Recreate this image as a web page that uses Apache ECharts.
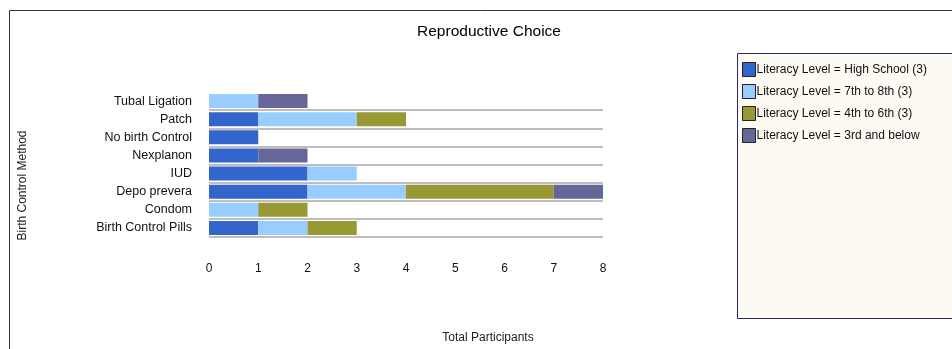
<!DOCTYPE html>
<html><head><meta charset="utf-8">
<script src="https://cdn.jsdelivr.net/npm/echarts@6/dist/echarts.min.js"></script>
<style>html,body{margin:0;padding:0;background:#fff}#c{width:952px;height:349px}</style>
</head><body><div id="c"></div>
<script>
const categories = ['Tubal Ligation','Patch','No birth Control','Nexplanon','IUD','Depo prevera','Condom','Birth Control Pills'];
const seriesNames = ['Literacy Level = High School (3)','Literacy Level = 7th to 8th (3)','Literacy Level = 4th to 6th (3)','Literacy Level = 3rd and below'];
const highSchool = [0,1,1,1,2,2,0,1];
const seventhToEighth = [1,2,0,0,1,2,1,1];
const fourthToSixth = [0,1,0,0,0,3,1,1];
const thirdAndBelow = [1,0,0,1,0,1,0,0];
const xTicks = [0,1,2,3,4,5,6,7,8];
const colors = ['#3366cc','#99ccff','#999933','#666699'];
const values = [highSchool, seventhToEighth, fourthToSixth, thirdAndBelow];

const chart = echarts.init(document.getElementById('c'));
const font = 'Liberation Sans, Arial, sans-serif';
chart.setOption({
  animation:false,
  backgroundColor:'#fff',
  title:{text:'Reproductive Choice',left:484,top:19,textAlign:'center',textStyle:{fontFamily:font,fontSize:15.5,fontWeight:'normal',color:'#000'}},
  graphic:[
    {type:'polyline',shape:{points:[[9.5,349],[9.5,10.5],[952,10.5]]},style:{stroke:'#333',lineWidth:1,fill:null},z:0},
    {type:'rect',shape:{x:737.5,y:53.5,width:230,height:265},style:{fill:'#fdfaf3',stroke:'#2b2b6b',lineWidth:1},z:0}
  ],
  legend:{orient:'vertical',left:737,top:57,itemWidth:13,itemHeight:14,itemGap:7,
    icon:'rect',
    textStyle:{fontFamily:font,fontSize:12,color:'#111',padding:[0,0,0,-4]},
    data:seriesNames.map((n,i)=>({name:n,itemStyle:{color:colors[i],borderColor:'#222',borderWidth:1}}))},
  grid:{left:209,right:349,top:92,bottom:112,containLabel:false},
  xAxis:{type:'value',min:0,max:8,interval:1,
    name:'Total Participants',nameLocation:'middle',nameGap:95,
    nameTextStyle:{fontFamily:font,fontSize:12,color:'#222',padding:[0,0,0,164]},
    axisLine:{show:false},axisTick:{show:false},splitLine:{show:false},
    axisLabel:{fontFamily:font,fontSize:12,color:'#111',margin:26,formatter:v=>xTicks.includes(v)?String(v):''}},
  yAxis:{type:'category',data:categories,inverse:true,
    name:'Birth Control Method',nameLocation:'middle',nameGap:180,nameRotate:90,
    nameTextStyle:{fontFamily:font,fontSize:12,color:'#222',padding:[0,42,0,0]},
    axisLine:{show:false},axisTick:{show:false},
    splitLine:{show:true,interval:(i)=>i!==0,lineStyle:{color:'#a8a8a8',width:1.5}},
    axisLabel:{fontFamily:font,fontSize:12.5,color:'#111',margin:17}},
  series:values.map((arr,i)=>({
    name:seriesNames[i],type:'bar',stack:'total',data:arr,barWidth:14,
    itemStyle:{color:colors[i]}
  }))
});
</script></body></html>
